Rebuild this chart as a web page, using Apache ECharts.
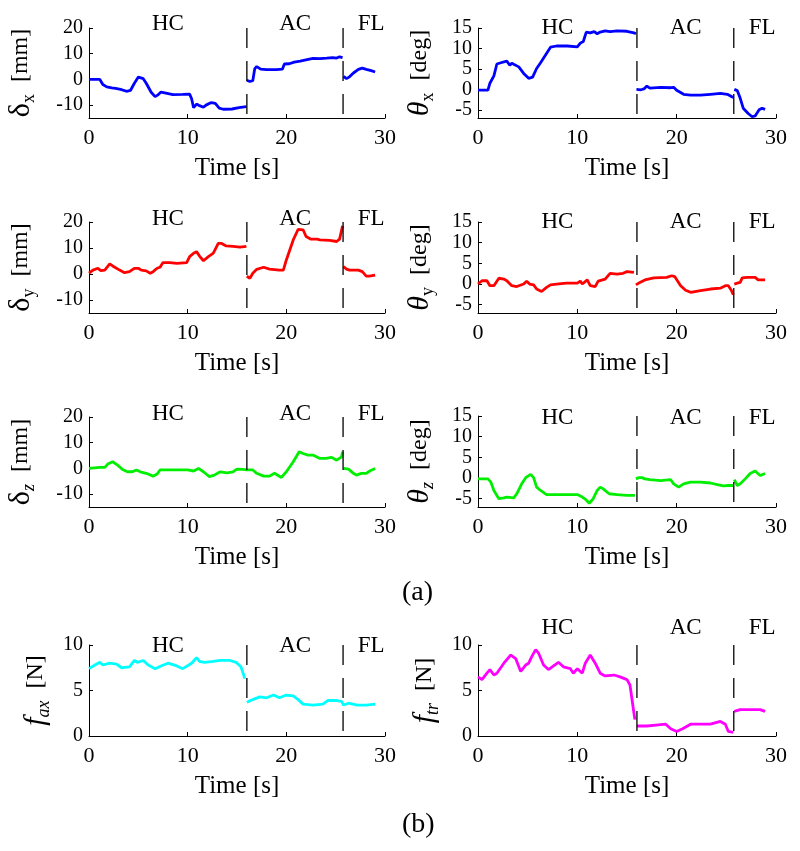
<!DOCTYPE html>
<html><head><meta charset="utf-8">
<script src="https://cdn.jsdelivr.net/npm/echarts@6/dist/echarts.min.js"></script>
<style>html,body{margin:0;padding:0;background:#fff}#c{width:800px;height:851px}</style>
</head><body><div id="c"></div>
<script>
// ---- data ----
const phaseBounds = [16, 25.75];
const phaseLabels = ['HC', 'AC', 'FL'];
const phaseLabelT = [8, 20.9, 28.6];
const xTicks = [0, 10, 20, 30];
const mmTicks = [-10, 0, 10, 20];
const degTicks = [-5, 0, 5, 10, 15];
const nTicks = [0, 5, 10];

const dx = [[0,0],[1.1,0],[1.4,-2.0],[1.8,-2.9],[2.3,-3.3],[2.5,-2.9],[2.7,-3.5],[3.2,-3.9],[3.8,-4.6],[4.2,-4.3],[4.6,-1.5],[5.0,0.9],[5.2,1.3],[5.5,0.3],[5.8,-1.5],[6.3,-5.0],[6.7,-6.7],[7.0,-6.0],[7.3,-4.9],[7.8,-5.3],[8.5,-5.9],[9.5,-5.8],[10.2,-5.7],[10.4,-7.5],[10.6,-11.0],[10.9,-9.6],[11.2,-10.2],[11.6,-10.8],[11.9,-9.9],[12.4,-9.0],[12.8,-9.3],[13.2,-11.2],[13.6,-11.6],[14.5,-11.5],[15.2,-11.0],[15.95,-10.6],
  [15.97,null],
  [16.0,-0.3],[16.3,-0.8],[16.6,-0.5],[16.8,4.2],[17.0,5.0],[17.4,4.0],[18,3.8],[19.0,3.8],[19.6,4.0],[19.8,6.0],[20.3,6.1],[20.8,6.7],[21.4,7.1],[22.1,7.7],[22.7,8.2],[23.4,8.1],[24.1,8.3],[24.7,8.5],[24.9,9.2],[25.1,8.3],[25.4,8.8],[25.7,8.5],
  [25.75,null],
  [25.8,1.2],[26.1,0.3],[26.4,1.0],[26.8,2.5],[27.3,3.9],[27.7,4.4],[28.1,3.9],[28.6,3.4],[29.0,2.9]];

const tx = [[0,-0.2],[1.0,-0.2],[1.2,1.5],[1.6,3.3],[1.9,6.2],[2.3,6.5],[2.9,6.9],[3.1,7.2],[3.2,5.9],[3.4,6.4],[3.6,6.3],[4.1,5.5],[4.6,3.9],[5.1,2.7],[5.5,3.0],[5.9,5.1],[6.3,6.5],[6.8,8.4],[7.3,10.3],[7.9,10.6],[9,10.6],[10,10.4],[10.3,11.3],[10.6,11.7],[10.9,14.0],[11.3,13.8],[11.7,14.1],[12.0,13.6],[12.3,14.0],[12.8,14.3],[13.0,14.6],[13.3,14.1],[14,14.3],[15,14.2],[15.7,13.8],[15.9,13.6],
  [15.92,null],
  [15.95,0],[16.4,-0.1],[16.7,0.1],[17.0,0.8],[17.3,0.3],[18.4,0.5],[19.4,0.4],[19.7,0.5],[20.0,-0.2],[20.7,-1.2],[21.4,-1.4],[22.4,-1.4],[23.4,-1.2],[24.4,-1.0],[25.1,-1.2],[25.7,-2.0],
  [25.75,null],
  [25.8,0],[26.1,-0.3],[26.4,-2.2],[26.7,-4.6],[27.2,-5.9],[27.6,-6.7],[27.9,-6.5],[28.3,-5.0],[28.6,-4.6],[28.9,-4.9]];

const dy = [[0,0.3],[0.4,1.5],[0.9,2.2],[1.2,1.3],[1.6,1.5],[2.1,3.9],[2.4,3.1],[3.1,1.5],[3.6,0.5],[4.1,0.9],[4.6,2.2],[5.0,2.2],[5.3,1.5],[5.8,1.2],[6.2,0.3],[6.5,0.9],[6.9,2.2],[7.2,2.6],[7.5,4.4],[8.2,4.4],[8.9,4.1],[9.9,4.4],[10.2,6.7],[10.6,8.0],[10.9,8.6],[11.2,6.9],[11.6,5.1],[12.1,6.7],[12.6,8.0],[13.1,11.8],[13.4,11.8],[13.9,10.8],[14.6,10.6],[15.3,10.3],[15.95,10.6],
  [15.97,null],
  [16.0,-0.8],[16.3,-1.7],[16.6,0.3],[17.0,1.8],[17.7,2.6],[18.3,1.9],[19.3,1.5],[19.7,1.5],[20.0,5.4],[20.7,13.1],[21.2,17.2],[21.7,17.0],[22.0,14.4],[22.5,13.4],[23.1,13.4],[23.4,13.1],[24.4,12.9],[25.1,12.5],[25.4,13.4],[25.7,18.5],
  [25.75,null],
  [25.8,2.8],[26.1,1.9],[26.4,1.5],[26.8,1.5],[27.3,1.5],[27.7,0.9],[28.1,-0.8],[28.4,-0.8],[29.0,-0.4]];

const ty = [[0,0],[0.4,0.8],[0.9,0.8],[1.2,-0.4],[1.6,-0.4],[2.1,1.4],[2.6,1.2],[2.9,0.8],[3.4,-0.4],[3.9,-0.6],[4.6,0],[4.9,0.7],[5.2,0],[5.6,-0.2],[5.9,-1.2],[6.4,-1.8],[6.9,-0.8],[7.3,-0.2],[7.9,0],[8.9,0.2],[10.0,0.2],[10.3,0.7],[10.5,0],[11.0,1.0],[11.3,-0.4],[11.8,-0.6],[12.1,0.7],[12.8,1.2],[13.3,2.6],[14.0,2.4],[14.6,2.6],[15.0,3.0],[15.7,2.8],
  [15.8,null],
  [15.9,-0.2],[16.3,0.4],[16.8,1.0],[17.7,1.5],[19.0,1.6],[19.5,2.0],[19.8,1.8],[20.4,-0.4],[20.9,-1.5],[21.4,-2.0],[22.4,-1.6],[23.4,-1.2],[24.4,-1.0],[24.9,-0.4],[25.2,-0.4],[25.5,-1.5],[25.7,-2.6],
  [25.75,null],
  [25.8,0],[26.1,0.2],[26.4,0.4],[26.6,1.5],[27.1,1.6],[27.9,1.6],[28.2,1.0],[28.9,1.0]];

const dz = [[0,0],[1.1,0.4],[1.6,0.4],[1.9,1.7],[2.4,2.6],[2.9,1.3],[3.4,-0.4],[3.9,-1.3],[4.4,-1.3],[4.8,-0.6],[5.2,-1.3],[5.8,-1.9],[6.5,-3.0],[6.9,-2.2],[7.2,-0.6],[8.0,-0.6],[9.2,-0.6],[10.0,-0.6],[10.2,0],[10.6,-1.0],[11.1,0],[11.6,-1.3],[12.2,-3.2],[12.7,-2.6],[13.3,-1.3],[14.0,-1.7],[14.6,-1.3],[15.0,-0.3],[15.6,-0.4],[15.95,-0.6],
  [16.0,-0.6],[16.6,-0.6],[17.0,-1.9],[17.7,-3.0],[18.3,-3.0],[18.8,-1.9],[19.5,-3.5],[20.0,-1.3],[20.7,2.6],[21.3,6.5],[21.7,5.8],[22.2,5.2],[22.7,5.2],[23.4,3.9],[24.0,3.9],[24.6,4.3],[25.1,3.2],[25.6,4.5],[25.7,6.5],
  [25.75,null],
  [25.8,0],[26.3,-0.3],[26.8,-1.9],[27.1,-2.6],[27.6,-1.9],[28.1,-1.9],[28.5,-0.9],[29.0,0]];

const tz = [[0,-0.2],[1.0,-0.2],[1.3,-1.0],[1.6,-3.0],[2.1,-5.0],[2.6,-4.8],[2.9,-4.6],[3.6,-4.8],[3.9,-3.8],[4.4,-1.4],[4.8,0.1],[5.3,0.9],[5.6,0.1],[5.9,-2.2],[6.3,-3.0],[6.9,-4.0],[8.0,-4.0],[9.0,-4.0],[10.0,-4.0],[10.5,-4.6],[10.9,-5.3],[11.2,-6.1],[11.6,-5.0],[12.0,-3.0],[12.3,-2.2],[12.6,-2.6],[13.2,-3.8],[14,-4.0],[15,-4.2],[15.8,-4.2],
  [15.85,null],
  [15.9,-0.2],[16.2,0.1],[16.5,0.1],[16.8,-0.2],[17.0,0.2],[17.3,-0.4],[18.4,-0.6],[19.4,-0.4],[19.7,-1.4],[19.9,-1.0],[20.2,-2.2],[20.7,-1.4],[21.4,-1.0],[22.4,-1.0],[23.4,-1.2],[24.1,-1.6],[24.7,-1.9],[25.2,-1.8],[25.7,-1.8],
  [25.75,null],
  [25.8,-0.4],[25.9,-0.2],[26.1,-1.8],[26.4,-1.4],[26.9,-0.2],[27.4,1.1],[27.9,1.7],[28.1,1.5],[28.4,0.6],[28.9,1.1]];

const fax = [[0,7.4],[0.6,7.8],[1.1,8.1],[1.4,7.8],[2.1,8.0],[2.8,7.9],[3.3,7.5],[4.1,7.6],[4.6,8.3],[4.9,8.1],[5.5,8.3],[6.0,7.8],[6.7,7.4],[7.3,7.7],[8.0,8.0],[8.9,7.7],[9.5,7.4],[10.4,8.0],[10.9,8.6],[11.2,8.2],[11.7,8.1],[12.6,8.2],[13.3,8.3],[14.3,8.3],[14.9,8.1],[15.4,7.6],[15.8,6.3],
  [15.9,null],
  [16.0,3.7],[16.6,4.0],[17.3,4.3],[18.0,4.2],[18.7,4.5],[19.3,4.2],[20.0,4.5],[20.7,4.4],[21.2,4.0],[21.7,3.5],[22.7,3.4],[23.7,3.5],[24.2,3.9],[25.1,3.9],[25.6,3.8],
  [25.8,3.4],[26.3,3.6],[27.2,3.4],[28.1,3.4],[29.0,3.5]];

const ftr = [[0,6.5],[0.4,6.2],[0.9,6.9],[1.2,7.3],[1.6,6.7],[1.9,6.9],[2.6,8.0],[3.3,8.9],[3.8,8.5],[4.3,7.1],[4.8,7.8],[5.1,8.0],[5.4,8.7],[5.8,9.5],[6.1,9.1],[6.6,7.8],[7.1,7.3],[7.6,7.7],[8.1,8.1],[8.6,7.6],[9.3,7.4],[9.6,6.9],[10.0,7.4],[10.5,6.9],[10.8,8.0],[11.3,8.9],[11.8,8.0],[12.3,6.9],[12.8,6.6],[13.7,6.7],[14.3,6.5],[15.0,6.2],[15.3,5.6],[15.7,2.5],[15.8,1.8],
  [15.9,null],
  [16.0,1.1],[17.0,1.1],[17.9,1.2],[18.9,1.3],[19.4,0.8],[20.0,0.5],[20.6,0.8],[21.4,1.3],[22.4,1.3],[23.4,1.3],[24.4,1.6],[24.9,1.3],[25.2,0.5],[25.7,0.4],
  [25.75,null],
  [25.8,2.7],[26.4,2.9],[27.4,2.9],[27.9,2.9],[28.4,2.9],[28.9,2.7]];

// ---- layout / style ----
const F = '"Liberation Serif", "Times New Roman", serif';
const panels = [
  {data: dx,  color: '#0000ff', name: '{g|δ}{s|x}{u|  [mm]}',  min: -15, max: 20, ticks: mmTicks,  col: 0, top: 28,  h: 90, ldy: -4, gap: 51},
  {data: tx,  color: '#0000ff', name: '{gi|θ}{s|x}{u|  [deg]}', min: -7,  max: 15, ticks: degTicks, col: 1, top: 28,  h: 90, ldy: 0,  gap: 41},
  {data: dy,  color: '#ff0000', name: '{g|δ}{s|y}{u|  [mm]}',  min: -15, max: 20, ticks: mmTicks,  col: 0, top: 222, h: 91, ldy: -3, gap: 51},
  {data: ty,  color: '#ff0000', name: '{gi|θ}{s|y}{u|  [deg]}', min: -7,  max: 15, ticks: degTicks, col: 1, top: 222, h: 91, ldy: 0,  gap: 41},
  {data: dz,  color: '#00ee00', name: '{g|δ}{si|z}{u|  [mm]}', min: -15, max: 20, ticks: mmTicks,  col: 0, top: 417, h: 90, ldy: -3, gap: 51},
  {data: tz,  color: '#00ee00', name: '{gi|θ}{si|z}{u|  [deg]}',min: -7,  max: 15, ticks: degTicks, col: 1, top: 416, h: 91, ldy: 2,  gap: 41},
  {data: fax, color: '#00ffff', name: '{fi|f}{si|ax}{u|  [N]}',  min: 0,   max: 10, ticks: nTicks,   col: 0, top: 645, h: 91, ldy: 1,  gap: 36},
  {data: ftr, color: '#ff00ff', name: '{fi|f}{si|tr}{u|  [N]}',  min: 0,   max: 10, ticks: nTicks,   col: 1, top: 645, h: 91, ldy: -17, gap: 36}
];
const colLeft = [89, 478];
const colWidth = [296, 298];

const rich = {
  g:  {fontFamily: F, fontSize: 30, lineHeight: 34, color: '#000'},
  gi: {fontFamily: F, fontSize: 30, lineHeight: 34, fontStyle: 'italic', color: '#000'},
  fi: {fontFamily: F, fontSize: 30, lineHeight: 34, fontStyle: 'italic', color: '#000'},
  s:  {fontFamily: F, fontSize: 18, lineHeight: 12, verticalAlign: 'bottom', color: '#000'},
  si: {fontFamily: F, fontSize: 18, lineHeight: 12, verticalAlign: 'bottom', fontStyle: 'italic', color: '#000'},
  u:  {fontFamily: F, fontSize: 24, lineHeight: 34, color: '#000'}
};

const grids = [], xAxes = [], yAxes = [], series = [];
panels.forEach((p, i) => {
  grids.push({left: colLeft[p.col], width: colWidth[p.col], top: p.top, height: p.h, containLabel: false});
  xAxes.push({
    type: 'value', gridIndex: i, min: 0, max: 30, interval: 10,
    name: 'Time [s]', nameLocation: 'middle', nameGap: 38,
    nameTextStyle: {fontFamily: F, fontSize: 25, color: '#000'},
    axisLine: {onZero: false, lineStyle: {color: '#000', width: 1}},
    axisTick: {inside: true, length: 4, lineStyle: {color: '#000'}},
    axisLabel: {fontFamily: F, fontSize: 22, color: '#000', margin: 9, showMinLabel: true, showMaxLabel: true, hideOverlap: false},
    splitLine: {show: false}
  });
  yAxes.push({
    type: 'value', gridIndex: i, min: p.min, max: p.max,
    name: p.name, nameLocation: 'middle', nameGap: p.gap,
    nameTextStyle: {fontFamily: F, color: '#000', rich: rich},
    axisLine: {onZero: false, lineStyle: {color: '#000', width: 1}},
    axisTick: {inside: true, length: 4, lineStyle: {color: '#000'}, customValues: p.ticks},
    axisLabel: {fontFamily: F, fontSize: 20, lineHeight: 16, color: '#000', margin: 6, customValues: p.ticks,
      hideOverlap: false, showMinLabel: true, showMaxLabel: true},
    splitLine: {show: false}
  });
  series.push({
    type: 'line', xAxisIndex: i, yAxisIndex: i, data: p.data,
    showSymbol: false, connectNulls: false, silent: true,
    lineStyle: {color: p.color, width: 2.8}
  });
  phaseBounds.forEach(b => {
    series.push({
      type: 'line', xAxisIndex: i, yAxisIndex: i, showSymbol: false, silent: true,
      data: [[b, p.max], [b, p.min]],
      lineStyle: {color: '#000', width: 1.3, type: [20, 13]}
    });
  });
  series.push({
    type: 'scatter', xAxisIndex: i, yAxisIndex: i, silent: true, clip: false,
    symbolSize: 2, itemStyle: {color: 'transparent', opacity: 1},
    emphasis: {disabled: true},
    data: phaseLabelT.map((t, k) => ({value: [t, p.max], name: phaseLabels[k]})),
    label: {show: true, position: 'inside', formatter: d => d.name,
      fontFamily: F, fontSize: 23, color: '#000', opacity: 1, textBorderWidth: 0},
    labelLayout: {hideOverlap: false, dy: p.ldy}
  });
});

const chart = echarts.init(document.getElementById('c'), null, {renderer: 'canvas'});
chart.setOption({
  animation: false,
  backgroundColor: '#fff',
  title: [
    {text: '(a)', left: 397, top: 574, textStyle: {fontFamily: F, fontSize: 28, fontWeight: 'normal', color: '#000'}},
    {text: '(b)', left: 397, top: 806, textStyle: {fontFamily: F, fontSize: 28, fontWeight: 'normal', color: '#000'}}
  ],
  grid: grids, xAxis: xAxes, yAxis: yAxes, series: series
});
</script></body></html>
